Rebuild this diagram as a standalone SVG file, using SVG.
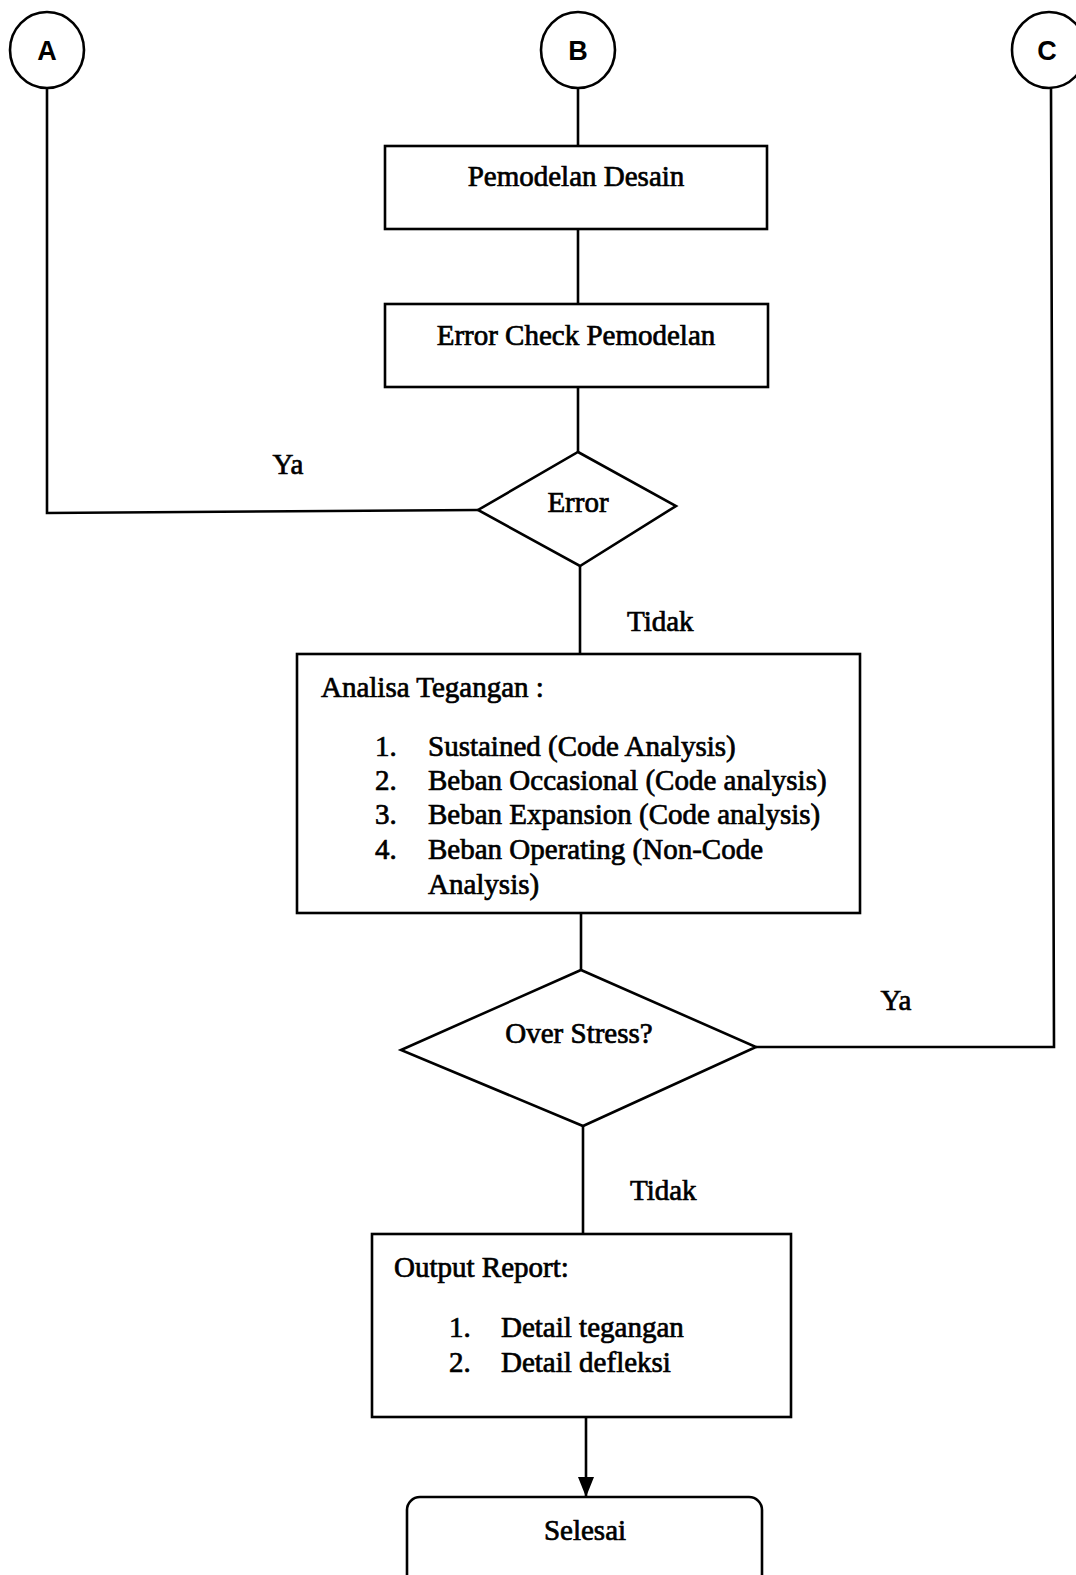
<svg xmlns="http://www.w3.org/2000/svg" width="1076" height="1575" viewBox="0 0 1076 1575">
<defs>
<style>
.s{fill:#fff;stroke:#000;stroke-width:2.6}
.c{fill:none;stroke:#000;stroke-width:2.6}
.t{font-family:"Liberation Serif","Times New Roman",serif;font-size:29px;fill:#000;stroke:#000;stroke-width:0.7}
.m{text-anchor:middle}
.l{font-family:"Liberation Sans",Arial,sans-serif;font-size:27px;font-weight:bold;fill:#000;text-anchor:middle}
</style>
<marker id="arr" viewBox="0 0 20 20" refX="20" refY="10" markerWidth="20" markerHeight="20" markerUnits="userSpaceOnUse" orient="auto">
<path d="M0,2 L20,10 L0,18 z" fill="#000"/>
</marker>
</defs>
<g id="connectors">
<polyline class="c" points="47,88 47,513 478,510"/>
<line class="c" x1="578" y1="88" x2="578" y2="146"/>
<line class="c" x1="578" y1="229" x2="578" y2="304"/>
<line class="c" x1="578" y1="387" x2="578" y2="452"/>
<line class="c" x1="580" y1="566" x2="580" y2="654"/>
<line class="c" x1="581" y1="913" x2="581" y2="970"/>
<polyline class="c" points="756,1047 1054,1047 1051,88"/>
<line class="c" x1="583" y1="1126" x2="583" y2="1234"/>
<line class="c" x1="586" y1="1417" x2="586" y2="1497" marker-end="url(#arr)"/>
<text class="t" x="288" y="474" text-anchor="middle">Ya</text>
<text class="t" x="627" y="631">Tidak</text>
<text class="t" x="896" y="1010" text-anchor="middle">Ya</text>
<text class="t" x="630" y="1200">Tidak</text>
</g>
<g id="nodeA">
<ellipse class="s" cx="47" cy="50" rx="37" ry="38"/>
<text class="l" x="47" y="60">A</text>
</g>
<g id="nodeB">
<ellipse class="s" cx="578" cy="50" rx="37" ry="38"/>
<text class="l" x="578" y="60">B</text>
</g>
<g id="nodeC">
<ellipse class="s" cx="1049" cy="50" rx="37" ry="38"/>
<text class="l" x="1047" y="60">C</text>
</g>
<g id="pemodelan">
<rect class="s" x="385" y="146" width="382" height="83"/>
<text class="t m" x="576" y="186">Pemodelan Desain</text>
</g>
<g id="errorcheck">
<rect class="s" x="385" y="304" width="383" height="83"/>
<text class="t m" x="576" y="345">Error Check Pemodelan</text>
</g>
<g id="error">
<polygon class="s" points="578,452 676,506 580,566 478,510"/>
<text class="t m" x="578" y="512">Error</text>
</g>
<g id="analisa">
<rect class="s" x="297" y="654" width="563" height="259"/>
<text class="t" x="321" y="697">Analisa Tegangan :</text>
<text class="t" x="375" y="756">1.</text>
<text class="t" x="428" y="756">Sustained (Code Analysis)</text>
<text class="t" x="375" y="790">2.</text>
<text class="t" x="428" y="790">Beban Occasional (Code analysis)</text>
<text class="t" x="375" y="824">3.</text>
<text class="t" x="428" y="824">Beban Expansion (Code analysis)</text>
<text class="t" x="375" y="859">4.</text>
<text class="t" x="428" y="859">Beban Operating (Non-Code</text>
<text class="t" x="428" y="894">Analysis)</text>
</g>
<g id="overstress">
<polygon class="s" points="581,970 756,1047 583,1126 401,1050"/>
<text class="t m" x="579" y="1043">Over Stress?</text>
</g>
<g id="output">
<rect class="s" x="372" y="1234" width="419" height="183"/>
<text class="t" x="394" y="1277">Output Report:</text>
<text class="t" x="449" y="1337">1.</text>
<text class="t" x="501" y="1337">Detail tegangan</text>
<text class="t" x="449" y="1372">2.</text>
<text class="t" x="501" y="1372">Detail defleksi</text>
</g>
<g id="selesai">
<rect class="s" x="407" y="1497" width="355" height="100" rx="13"/>
<text class="t m" x="585" y="1540">Selesai</text>
</g>
</svg>
